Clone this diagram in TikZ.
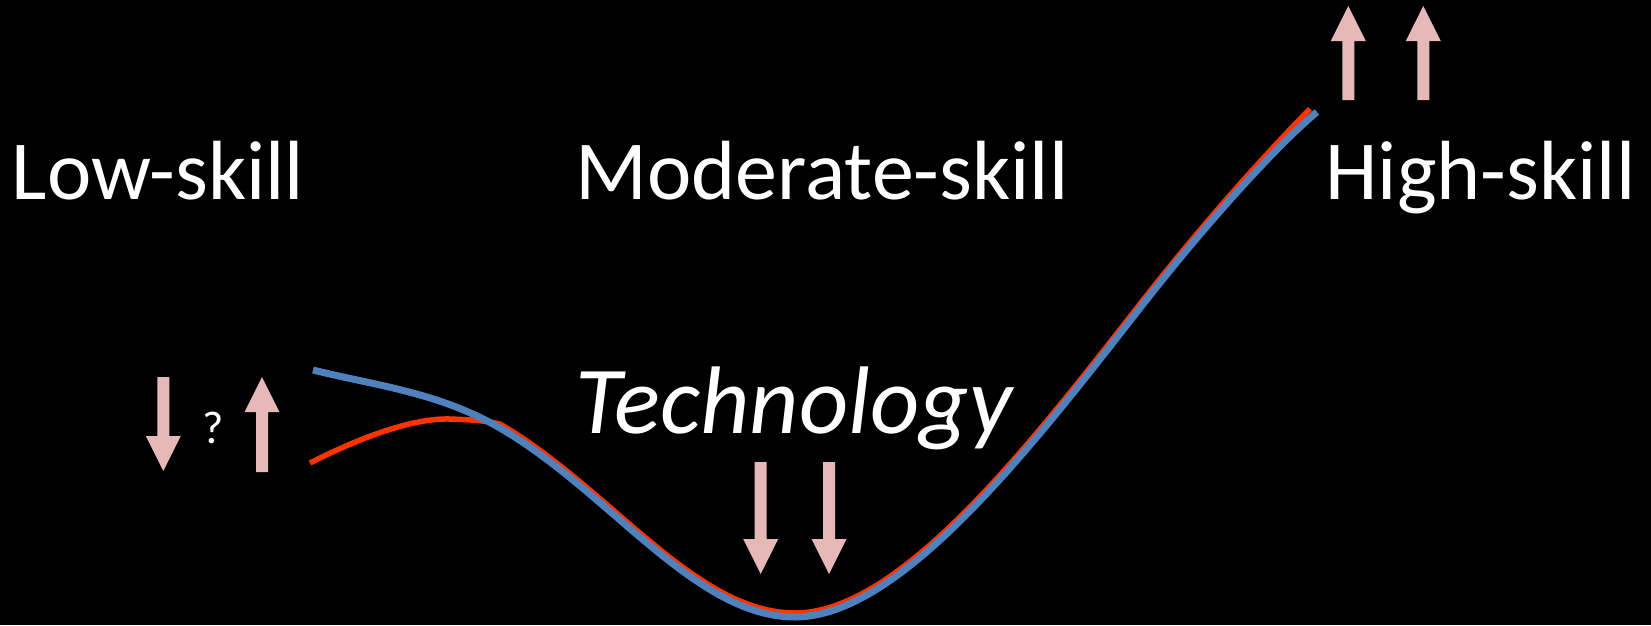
\documentclass[tikz,border=0pt]{standalone}
\usepackage{fontspec}
\setmainfont{Carlito}
\definecolor{curveblue}{HTML}{4F81BD}
\definecolor{curvered}{HTML}{FF3300}
\definecolor{arrowpink}{HTML}{E6B9B8}
\newcommand\blockarrow[4]{% x, tail y, tip y, direction (+1 down, -1 up)
  \fill[arrowpink] ({#1-6},#2) -- ({#1-6},{#3-35*#4}) -- ({#1-17.5},{#3-35*#4}) -- (#1,#3)
    -- ({#1+17.5},{#3-35*#4}) -- ({#1+6},{#3-35*#4}) -- ({#1+6},#2) -- cycle;}
\begin{document}
\begin{tikzpicture}[x=1pt,y=-1pt,
  label/.style={text=white,inner sep=0pt,anchor=base,font=\fontsize{84}{100}\selectfont},
  techlabel/.style={text=white,inner sep=0pt,anchor=base,font=\fontsize{96}{115}\selectfont\itshape},
  qlabel/.style={text=white,inner sep=0pt,anchor=base,font=\fontsize{46}{55}\selectfont}]
\fill[black] (0,0) rectangle (1651,625);
\useasboundingbox (0,0) rectangle (1651,625);

\node[label] (low) at (158,199) {Low-skill};
\node[label] (mod) at (822,199) {Moderate-skill};
\node[label] (high) at (1480.5,199) {High-skill};
\node[techlabel] (tech) at (794,433) {Technology};
\node[qlabel] (q) at (213,443) {?};

% key points of the blue curve
\coordinate (A) at (313,370);
\coordinate (B) at (500,428);
\coordinate (C) at (795,617);
\coordinate (E) at (1140,308);
\coordinate (F) at (1317,112);

% red curve (under), running just above the blue one
\draw[curvered,line width=5.5pt,line cap=butt]
  (310,463) .. controls (365,435) and (415,418) .. (450,419)
  .. controls (478,420) and (486,421) .. (500,424)
  .. controls (610,488) and (695,613) .. (795,613)
  .. controls (900,613) and (1030,445) .. (1140,304)
  .. controls (1215,208) and (1283,136) .. (1310,109);
% blue curve (over)
\draw[curveblue,line width=7pt,line cap=butt]
  (A) .. controls (375,385.5) and (438,392) .. (B)
  .. controls (610,492) and (695,617) .. (C)
  .. controls (900,617) and (1030,449) .. (E)
  .. controls (1215,212) and (1284,139) .. (F);

% block arrows
\blockarrow{163.3}{377}{471}{1}
\blockarrow{262}{472}{377}{-1}
\blockarrow{760.7}{462}{574}{1}
\blockarrow{829}{462}{574}{1}
\blockarrow{1348.3}{100}{6}{-1}
\blockarrow{1423.3}{100}{6}{-1}
\end{tikzpicture}
\end{document}
